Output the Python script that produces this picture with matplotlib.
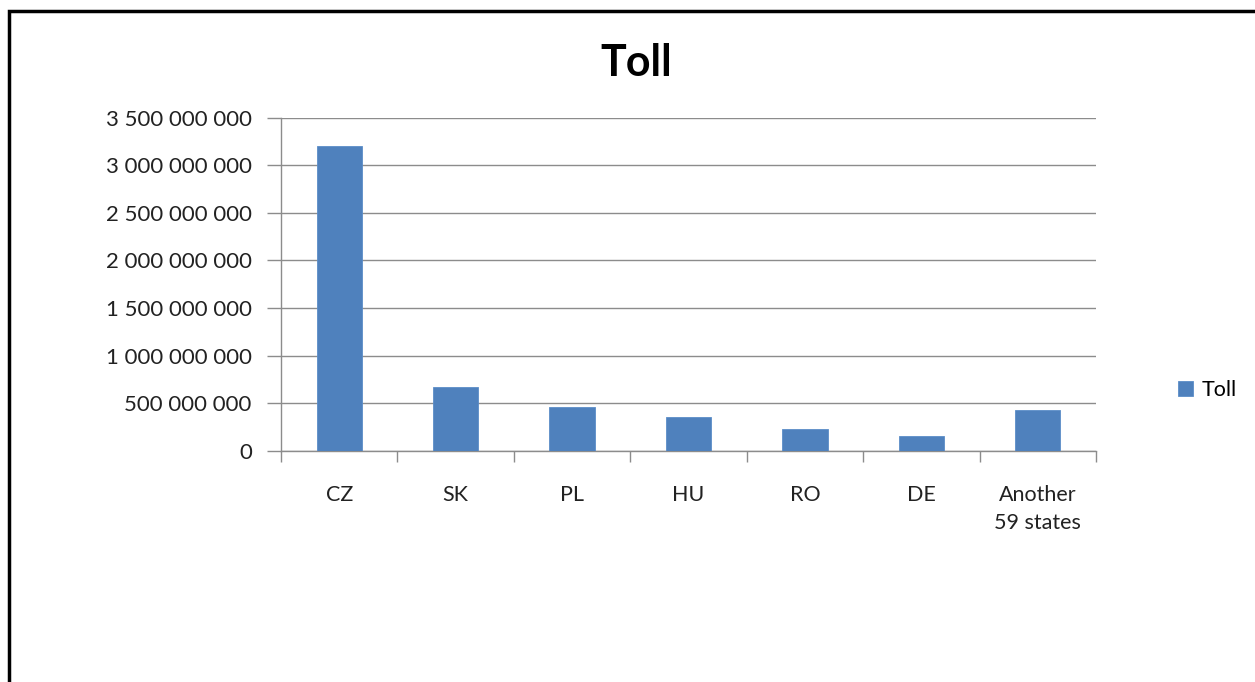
import matplotlib.pyplot as plt
import numpy as np
from matplotlib.ticker import FuncFormatter, FixedLocator
from matplotlib.patches import Rectangle

plt.rcParams['font.family'] = ['Lato', 'DejaVu Sans']

# Data
countries = ['CZ', 'SK', 'PL', 'HU', 'RO', 'DE', 'Another\n59 states']
toll = [3200000000, 665000000, 458000000, 350000000, 224000000, 154000000, 430000000]

fig = plt.figure(figsize=(12.55, 6.82), dpi=100)
ax = fig.add_axes([281 / 1255, 1 - 450.7 / 682, (1096 - 281) / 1255, (450.7 - 117.5) / 682])

x = np.arange(len(countries))
ax.bar(x, toll, width=0.39, color='#4F81BD', edgecolor='#5B8DC8', linewidth=0.6, label='Toll', zorder=3)

ax.set_xlim(-0.5, len(countries) - 0.5)
ax.set_ylim(0, 3500000000)
ax.set_yticks(np.arange(0, 3500000001, 500000000))
ax.yaxis.set_major_formatter(FuncFormatter(lambda v, p: '{:,.0f}'.format(v).replace(',', ' ')))

# Category labels at centres, tick marks at boundaries
ax.set_xticks(x)
ax.set_xticklabels(countries, linespacing=1.5)
ax.xaxis.set_minor_locator(FixedLocator(np.arange(-0.5, len(countries), 1.0)))
ax.tick_params(axis='x', which='major', length=0, pad=25, labelsize=15.5, colors='#222222')
ax.tick_params(axis='x', which='minor', length=8, width=1, color='#8C8C8C', direction='out')
ax.tick_params(axis='y', length=10, width=1, color='#8C8C8C', pad=11, labelsize=16, labelcolor='#222222')

ax.yaxis.grid(True, color='#8C8C8C', linewidth=1, zorder=0)
ax.set_axisbelow(True)
for s in ['top', 'right']:
    ax.spines[s].set_visible(False)
for s in ['left', 'bottom']:
    ax.spines[s].set_color('#8C8C8C')
    ax.spines[s].set_linewidth(1)

fig.text(636 / 1255, 1 - 63 / 682, 'Toll', ha='center', va='center', fontsize=31, fontweight='bold')

ax.legend(loc='center left', bbox_to_anchor=(1.077, 1 - (390 - 117.5) / (450.7 - 117.5)),
          frameon=False, fontsize=15.5, handlelength=0.7, handleheight=0.7, handletextpad=0.4)

# Outer frame (top and left edges visible)
fig.patches.append(Rectangle((9 / 1255, -0.1), 1.1, 1.1 - 11 / 682, transform=fig.transFigure,
                             fill=False, edgecolor='black', linewidth=2.5))

fig.savefig('out.png', dpi=100)
